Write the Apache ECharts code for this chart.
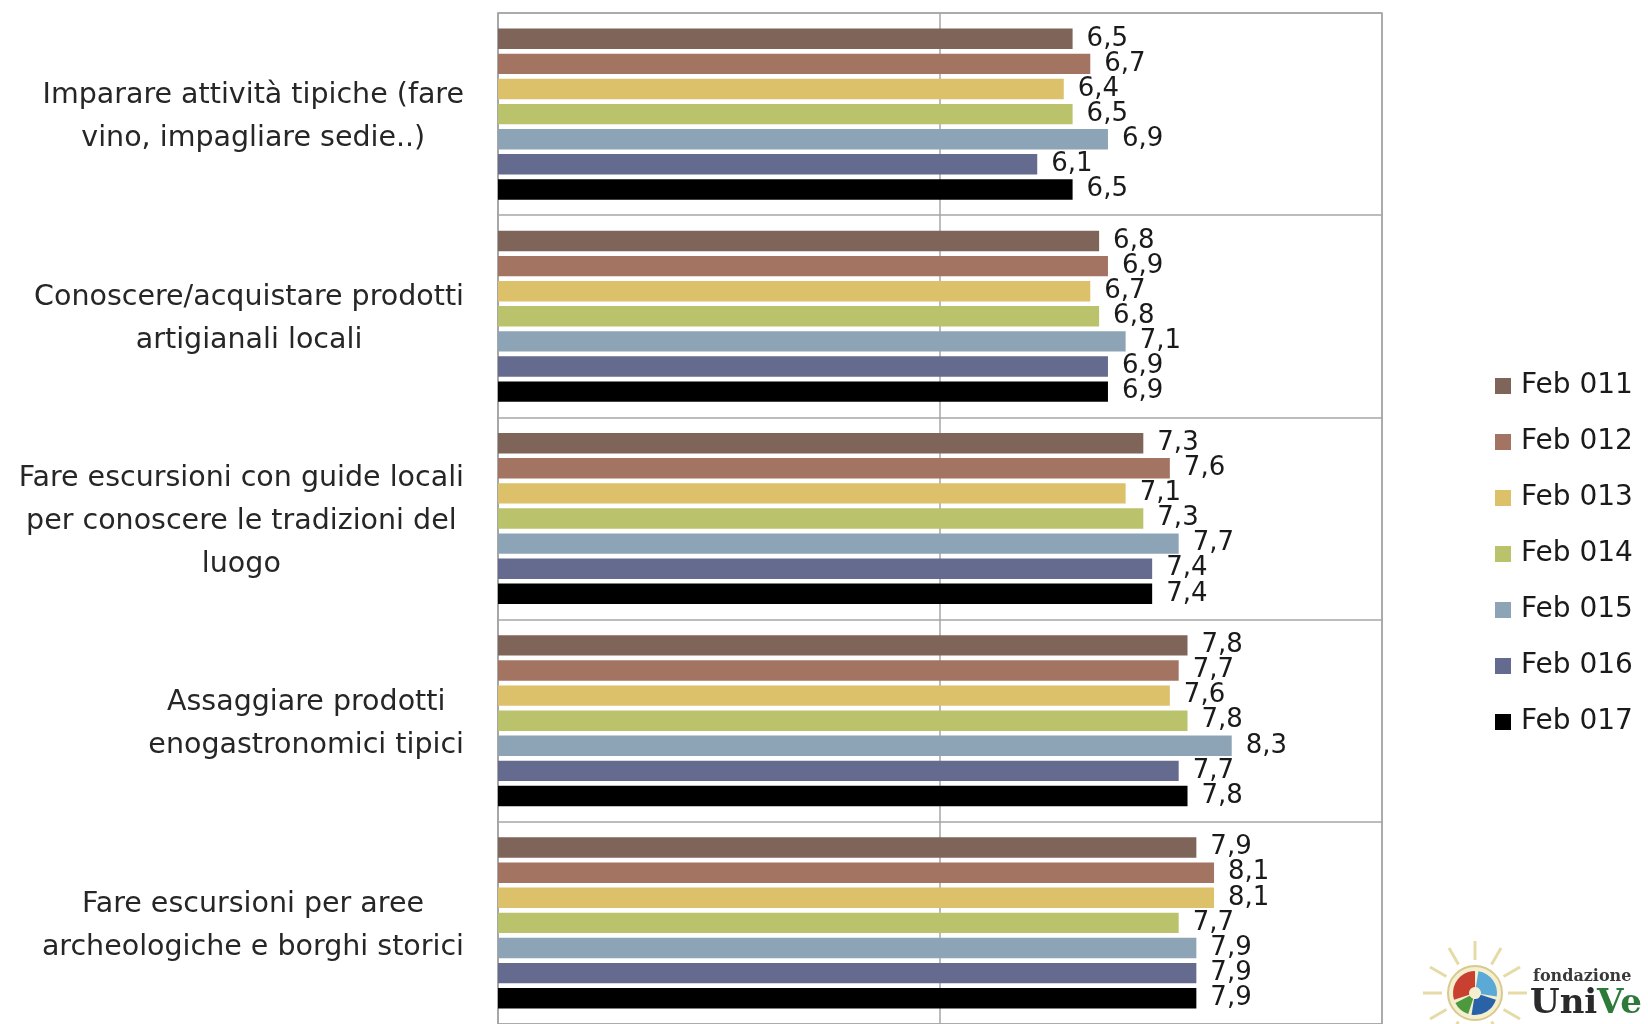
<!DOCTYPE html>
<html><head><meta charset="utf-8">
<script src="https://cdn.jsdelivr.net/npm/echarts@6/dist/echarts.min.js"></script>
<style>html,body{margin:0;padding:0;background:#fff}#c{width:1648px;height:1024px}</style>
</head><body><div id="c"></div>
<script>
const categories = [
  "Imparare attività tipiche (fare\nvino, impagliare sedie..)",
  "Conoscere/acquistare prodotti\nartigianali locali",
  "Fare escursioni con guide locali\nper conoscere le tradizioni del\nluogo",
  "Assaggiare prodotti\nenogastronomici tipici",
  "Fare escursioni per aree\narcheologiche e borghi storici"
];
const seriesNames = ["Feb 011","Feb 012","Feb 013","Feb 014","Feb 015","Feb 016","Feb 017"];
const feb011 = [6.5, 6.8, 7.3, 7.8, 7.9];
const feb012 = [6.7, 6.9, 7.6, 7.7, 8.1];
const feb013 = [6.4, 6.7, 7.1, 7.6, 8.1];
const feb014 = [6.5, 6.8, 7.3, 7.8, 7.7];
const feb015 = [6.9, 7.1, 7.7, 8.3, 7.9];
const feb016 = [6.1, 6.9, 7.4, 7.7, 7.9];
const feb017 = [6.5, 6.9, 7.4, 7.8, 7.9];
const seriesValues = [feb011, feb012, feb013, feb014, feb015, feb016, feb017];
const colors = ["#7f6459","#a37462","#dcc06a","#bac36b","#8da4b6","#646b8e","#000000"];
const xTicks = [0, 5, 10];

const FONT = '"DejaVu Sans", sans-serif';
const chart = echarts.init(document.getElementById('c'), null, {renderer:'canvas'});

const series = seriesNames.map((n, i) => ({
  name: n, type: 'bar', data: seriesValues[i],
  barGap: '23%', barCategoryGap: '15.4%',
  itemStyle: {color: colors[i]},
  label: {show: true, position: 'right', distance: 14, color: '#1a1a1a',
    fontFamily: FONT, fontSize: 26,
    formatter: p => String(p.value).replace('.', ',')},
  emphasis: {disabled: true}
}));

chart.setOption({
  animation: false,
  color: colors,
  grid: {left: 498, top: 13, width: 884, height: 1015, show: true, borderColor: '#a6a6a6', borderWidth: 1.5},
  xAxis: {type: 'value', min: xTicks[0], max: xTicks[xTicks.length-1], interval: xTicks[1]-xTicks[0],
    axisLabel: {show: false}, axisTick: {show: false}, axisLine: {show: false},
    splitLine: {show: true, lineStyle: {color: '#a6a6a6', width: 1.5}}},
  yAxis: {type: 'category', data: categories, inverse: true,
    axisLabel: {show: false}, axisTick: {show: false},
    axisLine: {show: true, lineStyle: {color: '#a6a6a6', width: 1.5}},
    splitLine: {show: true, lineStyle: {color: '#a6a6a6', width: 1.5}}},
  legend: {orient: 'vertical', left: 1490, top: 367, itemWidth: 16, itemHeight: 16, itemGap: 28,
    icon: 'rect', data: seriesNames,
    textStyle: {fontFamily: FONT, fontSize: 28, color: '#1a1a1a', lineHeight: 28, padding: [0,0,0,5]}},
  series: series
});

// category labels: each block centred, block right edge at x=463
const cv = document.createElement('canvas').getContext('2d');
const labelFont = '28.5px "DejaVu Sans"';
cv.font = labelFont;
const graphics = categories.map(c => {
  const y = chart.convertToPixel({yAxisIndex: 0}, c);
  const w = Math.max(...c.split('\n').map(l => cv.measureText(l).width));
  return {type: 'text', x: 464 - w/2, y: y + 3, silent: true,
    style: {text: c, font: labelFont, fill: '#262626', align: 'center', verticalAlign: 'middle', lineHeight: 43}};
});

// logo (partial, bottom-right)
const cx = 1475, cy = 993;
const rays = [];
for (let k = 0; k < 12; k++) {
  const a = k * Math.PI / 6;
  rays.push({type: 'line', silent: true, shape: {x1: cx + 33*Math.cos(a), y1: cy + 33*Math.sin(a), x2: cx + 52*Math.cos(a), y2: cy + 52*Math.sin(a)},
    style: {stroke: '#e6dba6', lineWidth: 3}});
}
graphics.push(...rays,
  {type: 'circle', silent: true, shape: {cx: cx, cy: cy, r: 27}, style: {fill: '#f3efcf', stroke: '#d9c98f', lineWidth: 2}},
  {type: 'sector', silent: true, shape: {cx: cx, cy: cy, r: 22, r0: 6, startAngle: Math.PI*0.9, endAngle: Math.PI*1.5}, style: {fill: '#c8402f'}},
  {type: 'sector', silent: true, shape: {cx: cx, cy: cy, r: 22, r0: 6, startAngle: Math.PI*1.55, endAngle: Math.PI*2.05}, style: {fill: '#5aa9d6'}},
  {type: 'sector', silent: true, shape: {cx: cx, cy: cy, r: 22, r0: 6, startAngle: Math.PI*0.1, endAngle: Math.PI*0.55}, style: {fill: '#2a62a8'}},
  {type: 'sector', silent: true, shape: {cx: cx, cy: cy, r: 22, r0: 6, startAngle: Math.PI*0.6, endAngle: Math.PI*0.85}, style: {fill: '#4d9a3e'}},
  {type: 'text', silent: true, x: 1533, y: 977, style: {text: 'fondazione', font: 'bold 16px "DejaVu Serif"', fill: '#3a3a3a', verticalAlign: 'middle'}},
  {type: 'text', silent: true, x: 1530, y: 1021, style: {text: 'Uni', font: 'bold 34px "DejaVu Serif"', fill: '#2a2a2a', verticalAlign: 'bottom'}},
  {type: 'text', silent: true, x: 1597, y: 1021, style: {text: 'Ve', font: 'bold 34px "DejaVu Serif"', fill: '#2d7a3a', verticalAlign: 'bottom'}}
);
chart.setOption({graphic: graphics});
</script>
</body></html>
